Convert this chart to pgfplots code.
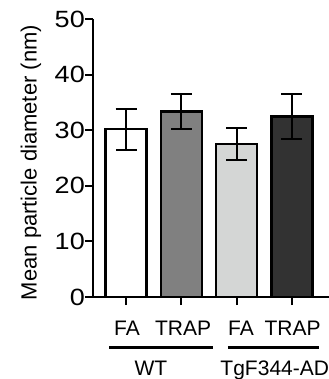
\documentclass[border=0pt]{standalone}
\usepackage{pgfplots}
\pgfplotsset{compat=1.18}
\usepackage{fontspec}
\setmainfont{Liberation Sans}
\newfontfamily\tickfont[FakeStretch=1.15]{Liberation Sans}
\definecolor{cA}{RGB}{255,255,255}
\definecolor{cB}{RGB}{128,128,128}
\definecolor{cC}{RGB}{212,214,213}
\definecolor{cD}{RGB}{50,50,50}
\pgfplotstableread{
x y e
1 30.2 3.7
}\tA
\pgfplotstableread{
x y e
2 33.4 3.2
}\tB
\pgfplotstableread{
x y e
3 27.5 2.9
}\tC
\pgfplotstableread{
x y e
4 32.5 4.1
}\tD
\begin{document}
\begin{tikzpicture}
\useasboundingbox (0,0) rectangle (329bp,-379bp);
\begin{axis}[
  at={(93bp,-297bp)}, anchor=south west,
  x=55.3bp, y=5.56bp,
  xmin=0.4032, xmax=4.8, ymin=0, ymax=50,
  axis x line*=bottom, axis y line*=left,
  axis line style={line width=2bp, black},
  every tick/.style={line width=2bp, black},
  tick align=outside, major tick length=8bp,
  ytick={0,10,...,50},
  xtick={1,2,3,4}, xticklabels={},
  /pgf/number format/assume math mode=true,
  yticklabel style={font=\tickfont\fontsize{23.5bp}{24bp}\selectfont, inner sep=0pt},
  ylabel={Mean particle diameter (nm)},
  ylabel style={font=\fontsize{22bp}{24bp}\selectfont, at={(axis description cs:-0.2316,0.4838)}, anchor=base},
  clip=false,
  ybar, bar width=41bp, bar shift=0pt,
  error bars/y dir=both, error bars/y explicit,
  error bars/error bar style={line width=2bp, black},
  error bars/error mark options={rotate=90, mark size=10.5bp, line width=2bp, black},
]
\addplot[fill=cA, draw=black, line width=2.5bp] table[x=x, y=y, y error=e] {\tA};
\addplot[fill=cB, draw=black, line width=2.5bp] table[x=x, y=y, y error=e] {\tB};
\addplot[fill=cC, draw=black, line width=2.5bp] table[x=x, y=y, y error=e] {\tC};
\addplot[fill=cD, draw=black, line width=2.5bp] table[x=x, y=y, y error=e] {\tD};
\begin{scope}[font=\fontsize{21bp}{22bp}\selectfont]
\node[anchor=base] at (axis cs:1.018,-7.01) {FA};
\node[anchor=base] at (axis cs:2.031,-7.01) {TRAP};
\node[anchor=base] at (axis cs:3.080,-7.01) {FA};
\node[anchor=base] at (axis cs:4.011,-7.01) {TRAP};
\draw[line width=3.3bp] (axis cs:0.698,-9.05) -- (axis cs:2.568,-9.05);
\draw[line width=3.3bp] (axis cs:2.844,-9.05) -- (axis cs:4.490,-9.05);
\node[anchor=base] at (axis cs:1.452,-14.03) {WT};
\node[anchor=base west, inner sep=0pt] at (axis cs:2.705,-14.03) {TgF344-AD};
\end{scope}
\end{axis}
\end{tikzpicture}
\end{document}
